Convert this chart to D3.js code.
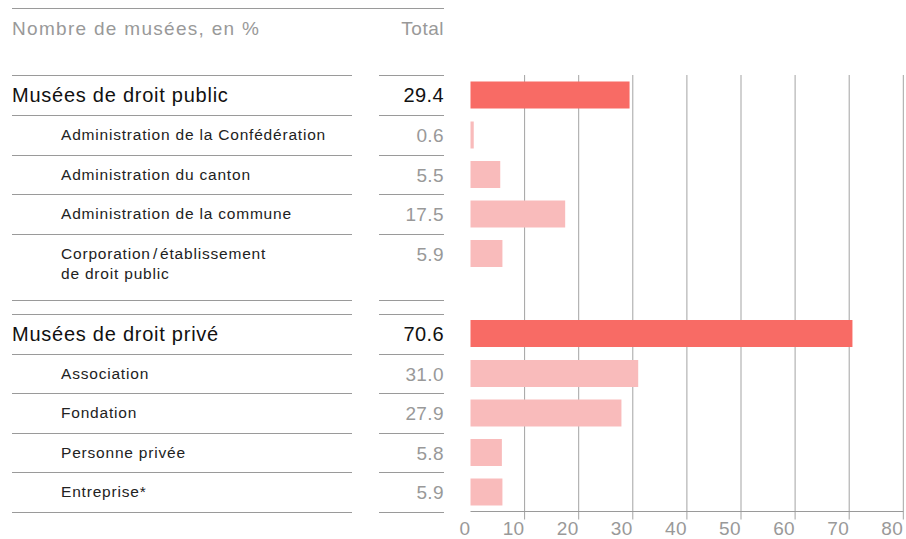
<!DOCTYPE html>
<html>
<head>
<meta charset="utf-8">
<script src="https://cdn.jsdelivr.net/npm/d3@7/dist/d3.min.js"></script>
<style>
  html, body { margin: 0; padding: 0; background: #fff; }
  svg { display: block; font-family: "Liberation Sans", Arial, sans-serif; }
</style>
</head>
<body>
<svg id="chart" width="906" height="539"></svg>
<script>
// ---- data ----
const categories = [
  "Musées de droit public",
  "Administration de la Confédération",
  "Administration du canton",
  "Administration de la commune",
  "Corporation/établissement|de droit public",
  "Musées de droit privé",
  "Association",
  "Fondation",
  "Personne privée",
  "Entreprise*"
];
const levels = ["main", "sub", "sub", "sub", "sub", "main", "sub", "sub", "sub", "sub"];
const values = [29.4, 0.6, 5.5, 17.5, 5.9, 70.6, 31.0, 27.9, 5.8, 5.9];
const valueLabels = ["29.4", "0.6", "5.5", "17.5", "5.9", "70.6", "31.0", "27.9", "5.8", "5.9"];
const xTicks = [0, 10, 20, 30, 40, 50, 60, 70, 80];
const headerLabel = "Nombre de musées, en %";
const totalLabel = "Total";

// ---- layout ----
const svg = d3.select("#chart");
const leftX0 = 12, leftX1 = 352, totX0 = 379, totX1 = 444;
const x = d3.scaleLinear().domain([0, 80]).range([470.5, 903.3]);

const lineColor = "#9a9a9a";
const mainColor = "#f86b65";
const subColor = "#f9bbbb";

// compute row tops
const rows = [];
let yCur = 75;
categories.forEach((c, i) => {
  const lines = c.split("|");
  const h = lines.length > 1 ? 66 : (levels[i] === "main" ? 40 : 39.5);
  if (i === 5) yCur += 14; // gap before second group
  rows.push({ label: lines, level: levels[i], value: values[i], vlabel: valueLabels[i], top: yCur, h: h });
  yCur += h;
});

// header top line
svg.append("line")
  .attr("x1", leftX0).attr("x2", totX1)
  .attr("y1", 8.5).attr("y2", 8.5)
  .attr("stroke", lineColor).attr("stroke-width", 1);

svg.append("text").attr("x", leftX0).attr("y", 35)
  .attr("font-size", 19).attr("fill", "#999").attr("letter-spacing", 1.3)
  .text(headerLabel);
svg.append("text").attr("x", totX1).attr("y", 35)
  .attr("font-size", 19).attr("fill", "#999").attr("text-anchor", "end").attr("letter-spacing", 0.5)
  .text(totalLabel);

// gridlines
const gridTop = 75, axisY = 511.5;
svg.append("g").selectAll("line")
  .data(xTicks.filter(d => d > 0))
  .join("line")
  .attr("x1", d => x(d)).attr("x2", d => x(d))
  .attr("y1", gridTop).attr("y2", axisY + 8)
  .attr("stroke", "#a3a3a3").attr("stroke-width", 1);

// row separators
const sepYs = new Set();
rows.forEach(r => { sepYs.add(r.top); sepYs.add(r.top + r.h); });
const seps = Array.from(sepYs).sort((a, b) => a - b);
const sepG = svg.append("g");
seps.forEach(yy => {
  const yy5 = Math.round(yy) + 0.5;
  sepG.append("line").attr("x1", leftX0).attr("x2", leftX1).attr("y1", yy5).attr("y2", yy5)
    .attr("stroke", lineColor).attr("stroke-width", 1);
  sepG.append("line").attr("x1", totX0).attr("x2", totX1).attr("y1", yy5).attr("y2", yy5)
    .attr("stroke", lineColor).attr("stroke-width", 1);
});

// bars
svg.append("g").selectAll("rect")
  .data(rows)
  .join("rect")
  .attr("x", x(0))
  .attr("y", d => d.top + 6.5)
  .attr("width", d => x(d.value) - x(0))
  .attr("height", 27)
  .attr("fill", d => d.level === "main" ? mainColor : subColor);

// labels
const lab = svg.append("g");
rows.forEach(r => {
  const isMain = r.level === "main";
  const t = lab.append("text")
    .attr("x", isMain ? leftX0 : 61)
    .attr("font-size", isMain ? 20 : 15.5)
    .attr("letter-spacing", isMain ? 0.75 : 0.8)
    .attr("fill", isMain ? "#111" : "#222");
  r.label.forEach((ln, j) => {
    t.append("tspan").attr("x", isMain ? leftX0 : 61)
      .attr("y", r.top + (isMain ? 27 : 25) + j * 20)
      .text(ln.replace("/", "\u200A/\u200A"));
  });
  lab.append("text")
    .attr("x", totX1).attr("y", r.top + 27)
    .attr("text-anchor", "end")
    .attr("font-size", isMain ? 20 : 19)
    .attr("letter-spacing", 0.4)
    .attr("fill", isMain ? "#111" : "#999")
    .text(r.vlabel);
});

// x axis line
svg.append("line")
  .attr("x1", x(0)).attr("x2", x(80))
  .attr("y1", axisY).attr("y2", axisY)
  .attr("stroke", lineColor).attr("stroke-width", 1);

// tick labels (end anchored at tick)
svg.append("g").selectAll("text")
  .data(xTicks)
  .join("text")
  .attr("x", d => x(d))
  .attr("y", 535)
  .attr("text-anchor", "end")
  .attr("font-size", 19)
  .attr("letter-spacing", 0.4)
  .attr("fill", "#999")
  .text(d => d);
</script>
</body>
</html>
